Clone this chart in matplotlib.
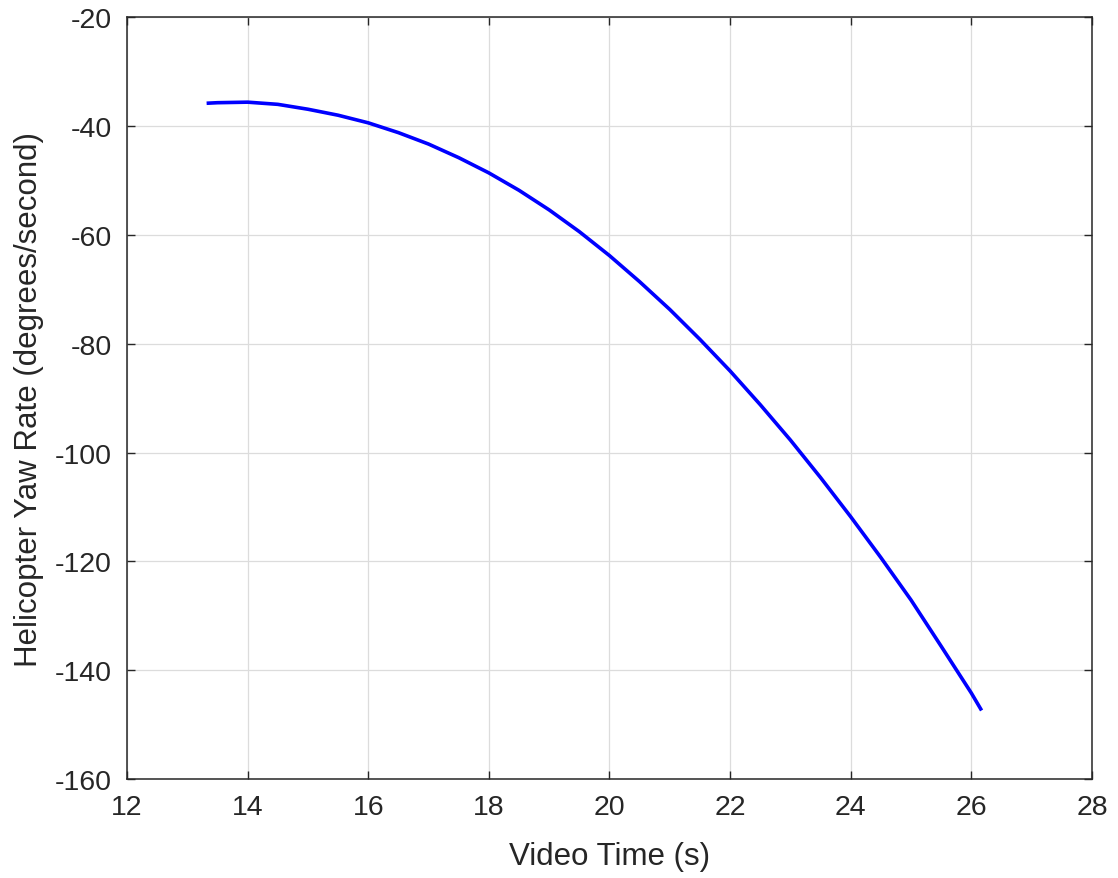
import matplotlib
matplotlib.use('Agg')
import matplotlib.pyplot as plt

# Yaw rate estimate against video time
video_time = [13.32, 13.5, 14.0, 14.5, 15.0, 15.5, 16.0, 16.5, 17.0, 17.5,
              18.0, 18.5, 19.0, 19.5, 20.0, 20.5, 21.0, 21.5, 22.0, 22.5,
              23.0, 23.5, 24.0, 24.5, 25.0, 25.5, 26.0, 26.17]
yaw_rate = [-35.8, -35.7, -35.6, -36.0, -36.9, -38.0, -39.4, -41.2, -43.3, -45.8,
            -48.6, -51.8, -55.4, -59.4, -63.8, -68.6, -73.7, -79.2, -85.0, -91.2,
            -97.7, -104.6, -111.8, -119.3, -127.1, -135.6, -144.2, -147.4]

x_ticks = [12, 14, 16, 18, 20, 22, 24, 26, 28]
y_ticks = [-160, -140, -120, -100, -80, -60, -40, -20]

plt.rcParams['font.family'] = ['Liberation Sans', 'DejaVu Sans']
plt.rcParams['axes.unicode_minus'] = False
text_color = '#262626'

fig = plt.figure(figsize=(11.18, 8.79), dpi=100)
ax = fig.add_axes([0.1136, 0.1126, 0.8631, 0.8666])

ax.plot(video_time, yaw_rate, color='#0000ff', linewidth=2.6,
        solid_capstyle='butt', solid_joinstyle='round')

ax.set_xlim(12, 28)
ax.set_ylim(-160, -20)
ax.set_xticks(x_ticks)
ax.set_yticks(y_ticks)
ax.grid(True, color='#dcdcdc', linewidth=0.9)
ax.set_axisbelow(True)

ax.tick_params(direction='in', top=True, right=True, length=6, width=1,
               labelsize=20.5, colors=text_color)
ax.tick_params(axis='x', pad=11)
ax.tick_params(axis='y', pad=11)
for spine in ax.spines.values():
    spine.set_color(text_color)
    spine.set_linewidth(1.1)

ax.set_xlabel('Video Time (s)', fontsize=22.5, color=text_color, labelpad=15)
ax.set_ylabel('Helicopter Yaw Rate (degrees/second)', fontsize=22.5,
              color=text_color, labelpad=8)

fig.savefig('out.png', dpi=100)
